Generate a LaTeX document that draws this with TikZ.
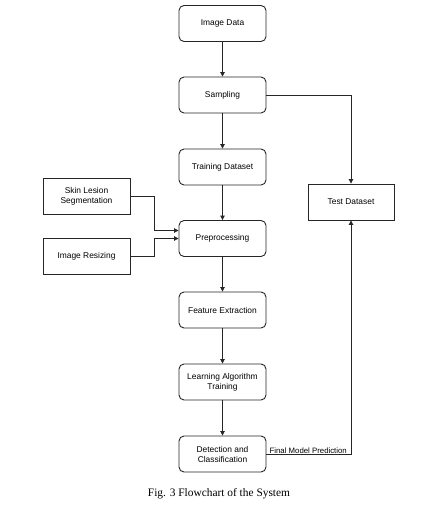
\documentclass[tikz,border=0pt]{standalone}
\usepackage{fontspec}
\setmainfont{Liberation Serif}
\newfontfamily\boxfont{Liberation Sans}
\usetikzlibrary{arrows.meta}
\begin{document}
\begin{tikzpicture}[x=1pt,y=-1pt,
  flowbox/.style={draw=black!85, line width=0.9pt, rounded corners=5pt, minimum width=87pt, minimum height=36pt, align=center, font=\boxfont\fontsize{8.4}{10}\selectfont, inner sep=1pt},
  sqbox/.style={flowbox, rounded corners=0pt},
  conn/.style={draw=black!85, line width=0.9pt, -{Triangle[length=4.5pt,width=4.5pt]}}]
\useasboundingbox (0,0) rectangle (424,509);
\node[flowbox] (img) at (222.5,23.5) {Image Data};
\node[flowbox] (samp) at (222.5,95) {Sampling};
\node[flowbox] (train) at (222.5,167) {Training Dataset};
\node[flowbox] (pre) at (222.5,238.5) {Preprocessing};
\node[flowbox] (feat) at (222.5,310) {Feature Extraction};
\node[flowbox] (learn) at (222.5,382) {Learning Algorithm\\Training};
\node[flowbox] (det) at (222.5,454) {Detection and\\Classification};
\node[sqbox] (skin) at (86.5,196) {Skin Lesion\\Segmentation};
\node[sqbox] (resize) at (86.5,256) {Image Resizing};
\node[sqbox, minimum width=86pt] (test) at (351,202) {Test Dataset};
\coordinate (j1) at (154,196);
\coordinate (j2) at (154,230.5);
\coordinate (j3) at (154,256);
\coordinate (j4) at (154,238.5);
\draw[conn] (img) -- (samp);
\draw[conn] (samp) -- (train);
\draw[conn] (train) -- (pre);
\draw[conn] (pre) -- (feat);
\draw[conn] (feat) -- (learn);
\draw[conn] (learn) -- (det);
\draw[conn] (skin.east) -- (j1) -- (j2) -- (j2 -| pre.west);
\draw[conn] (resize.east) -- (j3) -- (j4) -- (pre.west);
\draw[conn] (samp.east) -| (test.north);
\draw[conn] (det.east) -| (test.south);
\node[anchor=south west, inner sep=1pt, font=\boxfont\fontsize{7.8}{9}\selectfont] (lbl) at ([xshift=2pt,yshift=-1pt]det.east) {Final Model Prediction};
\node[font=\fontsize{11.4}{13}\selectfont] (cap) at (219,494) {Fig. 3 Flowchart of the System};
\end{tikzpicture}
\end{document}
